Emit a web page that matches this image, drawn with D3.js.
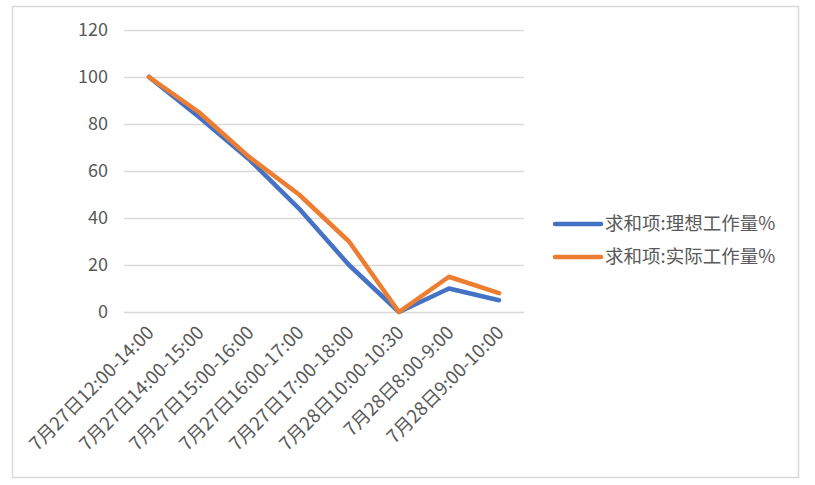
<!DOCTYPE html>
<html>
<head>
<meta charset="utf-8">
<script src="https://cdn.jsdelivr.net/npm/d3@7"></script>
<style>
  body { margin: 0; background: #fff; }
  svg { display: block; font-family: "Noto Sans CJK SC", "Noto Sans", sans-serif; }
</style>
</head>
<body>
<svg width="815" height="485"></svg>
<script>
// Chart data.
const categories = [
    "7月27日12:00-14:00", "7月27日14:00-15:00", "7月27日15:00-16:00", "7月27日16:00-17:00",
    "7月27日17:00-18:00", "7月28日10:00-10:30", "7月28日8:00-9:00", "7月28日9:00-10:00"
];
const seriesNames = ["求和项:理想工作量%", "求和项:实际工作量%"];
const idealValues = [100, 83, 65, 44, 20, 0, 10, 5];
const actualValues = [100, 85, 66, 50, 30, 0, 15, 8];
const yTicks = [0, 20, 40, 60, 80, 100, 120];

document.addEventListener("DOMContentLoaded", () => {

    const svg = d3.select("svg");
    const colors = ["#4472C4", "#ED7D31"];

    // Outer chart frame.
    svg.append("rect")
        .attr("x", 12.5).attr("y", 6.5)
        .attr("width", 786).attr("height", 471)
        .attr("fill", "#fff")
        .attr("stroke", "#d9d9d9")
        .attr("stroke-width", 1.5);

    const plot = { left: 124, right: 524, top: 30, bottom: 312 };

    const x = d3.scaleBand()
        .domain(categories)
        .range([plot.left, plot.right]);

    const y = d3.scaleLinear()
        .domain([0, 120])
        .range([plot.bottom, plot.top]);

    // Gridlines + y labels.
    const yAxis = svg.append("g")
        .attr("transform", `translate(${plot.left},0)`)
        .call(d3.axisLeft(y).tickValues(yTicks).tickSize(-(plot.right - plot.left)).tickPadding(16));
    yAxis.select(".domain").remove();
    yAxis.selectAll(".tick line").attr("stroke", "#d9d9d9").attr("stroke-width", 1.5);
    yAxis.selectAll(".tick text")
        .attr("fill", "#595959")
        .style("font-size", "18px")
        .style("font-family", "\"Noto Sans CJK SC\", sans-serif");

    // x labels, rotated.
    const xAxis = svg.append("g")
        .attr("transform", `translate(0,${plot.bottom})`)
        .call(d3.axisBottom(x).tickSize(0).tickPadding(0));
    xAxis.select(".domain").remove();
    xAxis.selectAll(".tick text")
        .attr("fill", "#595959")
        .style("font-size", "18.5px")
        .style("font-family", "\"Noto Sans CJK SC\", sans-serif")
        .attr("text-anchor", "end")
        .attr("dy", 0)
        .attr("transform", "translate(6,22) rotate(-45)");

    // Lines.
    const line = d3.line()
        .x((d, i) => x(categories[i]) + x.bandwidth() / 2)
        .y((d) => y(d));

    [idealValues, actualValues].forEach((values, k) => {

        svg.append("path")
            .datum(values)
            .attr("d", line)
            .attr("fill", "none")
            .attr("stroke", colors[k])
            .attr("stroke-width", 4.5)
            .attr("stroke-linejoin", "round")
            .attr("stroke-linecap", "round");
    });

    // Legend.
    const legend = svg.append("g").attr("transform", "translate(555,224)");
    seriesNames.forEach((name, k) => {

        const row = legend.append("g").attr("transform", `translate(0,${k * 33})`);
        row.append("line")
            .attr("x1", 0).attr("x2", 46)
            .attr("stroke", colors[k])
            .attr("stroke-width", 4.5)
            .attr("stroke-linecap", "round");
        row.append("text")
            .attr("x", 50)
            .attr("dy", "0.35em")
            .attr("fill", "#595959")
            .style("font-size", "18.5px")
            .text(name);
    });
});
</script>
</body>
</html>
